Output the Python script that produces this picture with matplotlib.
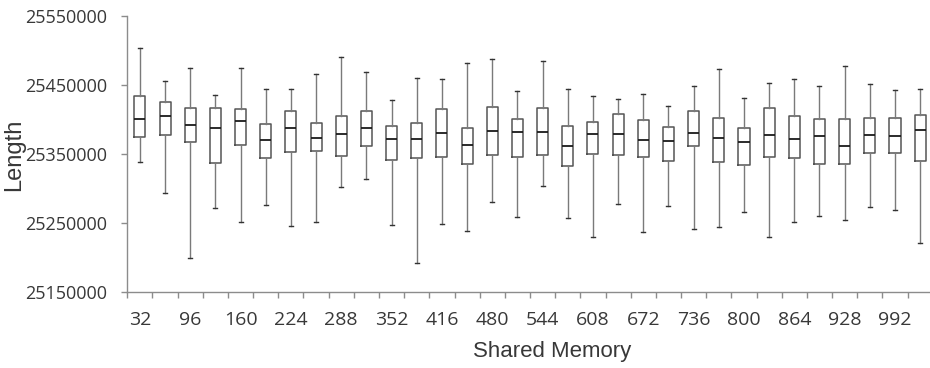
import matplotlib
matplotlib.use("Agg")
import matplotlib.pyplot as plt
from matplotlib.ticker import FixedLocator, NullFormatter

# Shared memory sizes (categories)
shared_memory = list(range(32, 1025, 32))

# Five-number summaries of Length for each shared memory size
whisker_high = [25504100, 25455300, 25474100, 25435400, 25474600, 25444200, 25443700, 25465400,
                25490100, 25468800, 25428200, 25459600, 25458200, 25481400, 25487200, 25440800,
                25484300, 25443700, 25433500, 25429200, 25436900, 25419500, 25449000, 25473700,
                25431100, 25452900, 25458700, 25448000, 25477000, 25451400, 25442700, 25444200]
q3 = [25434500, 25424800, 25416600, 25416600, 25414600, 25392900, 25411700, 25395300,
      25404500, 25411700, 25390000, 25394300, 25414600, 25387500, 25418500, 25400100,
      25417100, 25390900, 25396700, 25408300, 25399600, 25388500, 25412200, 25402500,
      25387100, 25417100, 25405400, 25401100, 25400100, 25401600, 25402500, 25406400]
median = [25400600, 25404500, 25391400, 25387100, 25398200, 25369600, 25388000, 25373000,
          25378400, 25387500, 25371100, 25371100, 25380300, 25362900, 25382700, 25381300,
          25381700, 25361900, 25378400, 25378400, 25370100, 25369200, 25379800, 25373000,
          25367200, 25377400, 25371100, 25376400, 25361400, 25376900, 25376400, 25385100]
q1 = [25374500, 25376900, 25367200, 25336300, 25362400, 25343500, 25352200, 25354600,
      25346400, 25361900, 25341600, 25344000, 25345900, 25334800, 25348800, 25345500,
      25347900, 25331900, 25349800, 25347900, 25345500, 25339600, 25361900, 25337700,
      25334300, 25345900, 25344500, 25335300, 25335800, 25350800, 25351700, 25339200]
whisker_low = [25337700, 25292700, 25198900, 25271000, 25251100, 25275300, 25245800, 25250600,
               25302400, 25313000, 25246800, 25191100, 25247700, 25238100, 25280600, 25257900,
               25303800, 25256400, 25228900, 25276800, 25236100, 25273900, 25240500, 25244300,
               25265100, 25228900, 25251100, 25259300, 25253500, 25273400, 25268000, 25220200]

y_ticks = [25150000, 25250000, 25350000, 25450000, 25550000]

tick_font = "Open Sans"
title_font = "Liberation Sans"
text_color = "#383838"
axis_color = "#8c8c8c"

fig = plt.figure(figsize=(9.30, 3.68), dpi=100)
ax = fig.add_axes([127.3 / 930, (368 - 291.7) / 368, (930 - 127.3) / 930, (291.7 - 16) / 368])

stats = []
for i, m in enumerate(shared_memory):
    stats.append(dict(label=str(m), med=median[i], q1=q1[i], q3=q3[i],
                      whislo=whisker_low[i], whishi=whisker_high[i], fliers=[]))

positions = list(range(1, len(shared_memory) + 1))
ax.bxp(stats, positions=positions, widths=0.44, showfliers=False, patch_artist=False,
       boxprops=dict(color="#555555", linewidth=1.1),
       medianprops=dict(color="#1a1a1a", linewidth=1.3),
       whiskerprops=dict(color="#7a7a7a", linewidth=1.0),
       capprops=dict(color="#333333", linewidth=1.0),
       capwidths=0.16)

ax.set_ylim(y_ticks[0], y_ticks[-1])
ax.set_yticks(y_ticks)
ax.set_yticklabels([str(v) for v in y_ticks])

ax.set_xlim(0.5, 0.5 + (930 - 127.3) / 25.17)
label_pos = positions[::2]
ax.xaxis.set_major_locator(FixedLocator(label_pos))
ax.set_xticklabels([str(shared_memory[p - 1]) for p in label_pos])
ax.xaxis.set_minor_locator(FixedLocator([p + 0.5 for p in [0] + positions]))
ax.xaxis.set_minor_formatter(NullFormatter())
ax.tick_params(axis="x", which="major", length=0, pad=14)
ax.tick_params(axis="x", which="minor", length=4.5, color=axis_color, width=1.0, direction="out")
ax.tick_params(axis="y", length=4.5, color=axis_color, width=1.0, pad=10)

for lbl in ax.get_xticklabels():
    lbl.set_fontfamily(tick_font)
    lbl.set_fontsize(14)
    lbl.set_color(text_color)
for lbl in ax.get_yticklabels():
    lbl.set_fontfamily(tick_font)
    lbl.set_fontsize(13)
    lbl.set_color(text_color)

for side in ("top", "right"):
    ax.spines[side].set_visible(False)
for side in ("left", "bottom"):
    ax.spines[side].set_color(axis_color)
    ax.spines[side].set_linewidth(1.0)

fig.text(14 / 930, 1 - 155 / 368, "Length", rotation=90, ha="center", va="center",
         fontfamily=title_font, fontsize=17, color=text_color)
fig.text(552 / 930, 1 - 357 / 368, "Shared Memory", ha="center", va="baseline",
         fontfamily=title_font, fontsize=16, color=text_color)

fig.savefig("out.png", dpi=100)
